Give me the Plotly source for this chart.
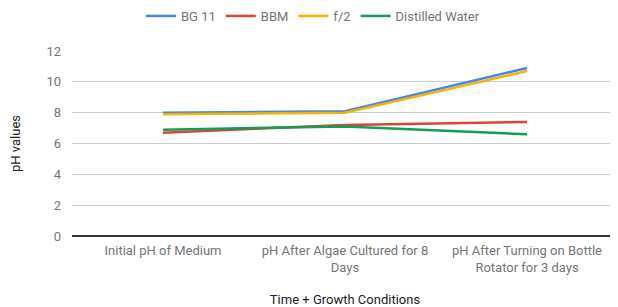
import plotly.graph_objects as go

categories = ["Initial pH of Medium", "pH After Algae Cultured for 8<br>Days", "pH After Turning on Bottle<br>Rotator for 3 days"]
bg11 = [8.0, 8.1, 10.9]
bbm = [6.7, 7.2, 7.4]
f2 = [7.9, 8.0, 10.7]
distilled = [6.9, 7.1, 6.6]
y_ticks = [0, 2, 4, 6, 8, 10, 12]

series = [("BG 11", bg11, "#4285F4"), ("BBM", bbm, "#DB4437"), ("f/2", f2, "#F4B400"), ("Distilled Water", distilled, "#0F9D58")]

fig = go.Figure()
for name, vals, col in series:
    fig.add_trace(go.Scatter(x=categories, y=vals, name=name, mode="lines",
                             line=dict(color=col, width=2.5)))

fig.update_layout(
    width=610, height=299,
    margin=dict(l=64, r=0, t=43, b=71, autoexpand=False),
    paper_bgcolor="white", plot_bgcolor="white",
    font=dict(family="Roboto", size=13, color="#757575"),
    showlegend=True,
    legend=dict(orientation="h", x=0.5, xanchor="center", xref="container",
                y=1 - 8 / 299, yanchor="middle",
                yref="container", font=dict(size=13, color="#757575"), itemwidth=30),
    xaxis=dict(showgrid=False, showline=False, ticks="", range=[-0.5, 2.5],
               tickfont=dict(size=13, color="#757575"), ticklabelstandoff=5,
               title=dict(text="Time + Growth Conditions", font=dict(size=13, color="#222222"), standoff=25)),
    yaxis=dict(range=[0, 12], tickvals=y_ticks, showgrid=True, gridcolor="#cccccc", gridwidth=1,
               zeroline=True, zerolinecolor="#333333", zerolinewidth=1.5, ticks="",
               tickfont=dict(size=13, color="#757575"), ticklabelstandoff=10,
               title=dict(text="pH values", font=dict(size=13, color="#222222"), standoff=26)),
)
fig.write_html("out.html")
